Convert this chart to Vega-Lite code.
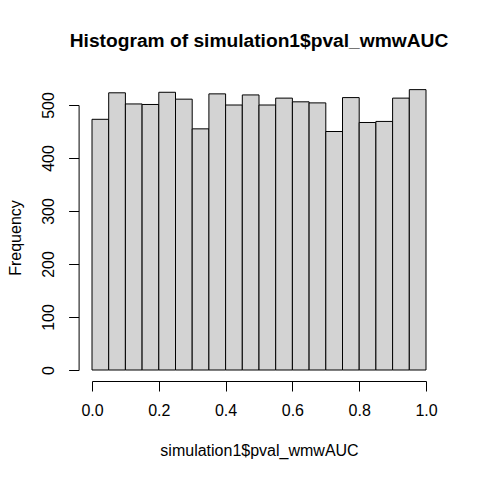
{
  "$schema": "https://vega.github.io/schema/vega-lite/v6.json",
  "width": 334,
  "height": 265,
  "autosize": {"type": "none"},
  "padding": {"left": 92, "top": 105, "right": 54, "bottom": 110},
  "background": "white",
  "config": {
    "view": {"stroke": null},
    "font": "Liberation Sans",
    "axis": {
      "grid": false,
      "domainColor": "black",
      "tickColor": "black",
      "labelColor": "black",
      "titleColor": "black",
      "labelFont": "Liberation Sans",
      "titleFont": "Liberation Sans",
      "labelFontSize": 16,
      "titleFontSize": 16,
      "titleFontWeight": "normal",
      "tickSize": 10,
      "domainWidth": 1,
      "tickWidth": 1
    }
  },
  "title": {
    "text": "Histogram of simulation1$pval_wmwAUC",
    "font": "Liberation Sans",
    "fontSize": 19.2,
    "fontWeight": "bold",
    "color": "black",
    "anchor": "middle",
    "baseline": "alphabetic",
    "offset": 23
  },
  "data": {
    "values": [
      {"bin_start": 0.00, "bin_end": 0.05, "count": 473},
      {"bin_start": 0.05, "bin_end": 0.10, "count": 523},
      {"bin_start": 0.10, "bin_end": 0.15, "count": 502},
      {"bin_start": 0.15, "bin_end": 0.20, "count": 501},
      {"bin_start": 0.20, "bin_end": 0.25, "count": 524},
      {"bin_start": 0.25, "bin_end": 0.30, "count": 511},
      {"bin_start": 0.30, "bin_end": 0.35, "count": 455},
      {"bin_start": 0.35, "bin_end": 0.40, "count": 521},
      {"bin_start": 0.40, "bin_end": 0.45, "count": 500},
      {"bin_start": 0.45, "bin_end": 0.50, "count": 519},
      {"bin_start": 0.50, "bin_end": 0.55, "count": 500},
      {"bin_start": 0.55, "bin_end": 0.60, "count": 513},
      {"bin_start": 0.60, "bin_end": 0.65, "count": 506},
      {"bin_start": 0.65, "bin_end": 0.70, "count": 504},
      {"bin_start": 0.70, "bin_end": 0.75, "count": 450},
      {"bin_start": 0.75, "bin_end": 0.80, "count": 514},
      {"bin_start": 0.80, "bin_end": 0.85, "count": 467},
      {"bin_start": 0.85, "bin_end": 0.90, "count": 469},
      {"bin_start": 0.90, "bin_end": 0.95, "count": 513},
      {"bin_start": 0.95, "bin_end": 1.00, "count": 529}
    ]
  },
  "mark": {"type": "rect", "fill": "#D3D3D3", "stroke": "black", "strokeWidth": 1, "clip": false},
  "encoding": {
    "x": {
      "field": "bin_start",
      "type": "quantitative",
      "scale": {"domain": [0, 1], "nice": false, "zero": false},
      "axis": {
        "title": "simulation1$pval_wmwAUC",
        "values": [0, 0.2, 0.4, 0.6, 0.8, 1.0],
        "format": ".1f",
        "offset": 11,
        "labelPadding": 11,
        "titlePadding": 24,
        "labelFlush": false
      }
    },
    "x2": {"field": "bin_end"},
    "y": {
      "field": "count",
      "type": "quantitative",
      "scale": {"domain": [0, 500], "nice": false},
      "axis": {
        "title": "Frequency",
        "values": [0, 100, 200, 300, 400, 500],
        "offset": 13.4,
        "labelAngle": -90,
        "labelAlign": "center",
        "labelBaseline": "alphabetic",
        "labelPadding": 15,
        "labelFlush": false,
        "titlePadding": 20,
        "titleBaseline": "alphabetic"
      }
    },
    "y2": {"datum": 0}
  }
}
